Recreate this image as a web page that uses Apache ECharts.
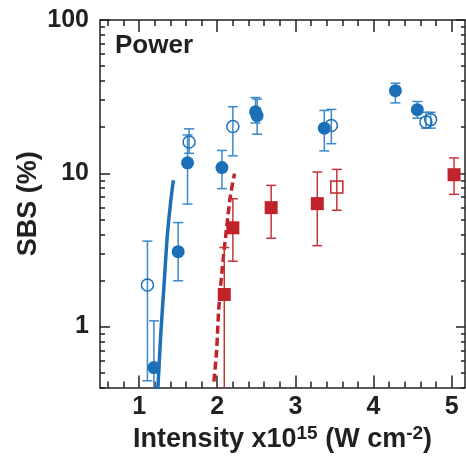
<!DOCTYPE html>
<html>
<head>
<meta charset="utf-8">
<script src="https://cdn.jsdelivr.net/npm/echarts@6/dist/echarts.min.js"></script>
<style>
  html, body { margin: 0; padding: 0; background: #fff; }
  #main { width: 466px; height: 458px; }
</style>
</head>
<body>
<div id="main"></div>
<script>
// tick values
var xMajor = [1, 2, 3, 4, 5];
var xMinor = [0.6, 0.8, 1.2, 1.4, 1.6, 1.8, 2.2, 2.4, 2.6, 2.8, 3.2, 3.4, 3.6, 3.8, 4.2, 4.4, 4.6, 4.8, 5.2];
var yMajor = [1, 10, 100];
var yMinor = [0.4, 0.5, 0.6, 0.7, 0.8, 0.9, 2, 3, 4, 5, 6, 7, 8, 9, 20, 30, 40, 50, 60, 70, 80, 90];

// blue filled circles
var blueFilledX = [1.19, 1.50, 1.62, 2.06, 2.49, 2.51, 3.37, 4.28, 4.56];
var blueFilledY = [0.54, 3.08, 11.7, 10.9, 25.2, 23.8, 19.7, 34.6, 26.0];
var blueFilledLow = [0.3, 1.99, 6.3, 7.94, 21.3, 18.0, 14.0, 28.8, 22.9];
var blueFilledHigh = [1.09, 4.77, 17.8, 14.1, 31.2, 30.5, 25.7, 38.7, 29.4];

// blue open circles
var blueOpenX = [1.107, 1.64, 2.20, 3.46, 4.67, 4.73];
var blueOpenY = [1.87, 16.0, 20.2, 20.5, 21.6, 22.4];
var blueOpenLow = [0.443, 13.5, 13.0, 15.6, 19.7, 19.7];
var blueOpenHigh = [3.61, 19.5, 27.2, 26.1, 25.0, 25.0];

// red filled squares
var redFilledX = [2.09, 2.20, 2.69, 3.28, 5.03];
var redFilledY = [1.62, 4.41, 5.97, 6.34, 9.79];
var redFilledLow = [0.3, 2.67, 3.77, 3.37, 7.29];
var redFilledHigh = [3.28, 6.82, 8.34, 10.2, 12.6];

// red open square
var redOpenX = [3.53];
var redOpenY = [8.15];
var redOpenLow = [5.74];
var redOpenHigh = [10.6];

// model curves
var blueCurveX = [1.24, 1.277, 1.319, 1.362, 1.404, 1.439];
var blueCurveY = [0.39, 0.882, 1.86, 3.95, 6.51, 9.0];
var redCurveX = [1.957, 1.991, 2.020, 2.064, 2.119, 2.170, 2.221];
var redCurveY = [0.438, 0.687, 1.315, 2.39, 4.36, 7.18, 9.95];

var BLUE = '#1b70b8';
var BLUE_ERR = '#3c88c9';
var RED = '#c1232b';
var RED_ERR = '#c8363d';
var INK = '#231f20';
var FONT = 'Liberation Sans';

function pairs(xs, ys) {
  return xs.map(function (x, i) { return [x, ys[i]]; });
}
function triples(xs, lo, hi) {
  return xs.map(function (x, i) { return [x, lo[i], hi[i]]; });
}

function errRender(color) {
  return function (params, api) {
    var cs = params.coordSys;
    var bottom = cs.y + cs.height;
    var x = api.value(0);
    var pLo = api.coord([x, api.value(1)]);
    var pHi = api.coord([x, api.value(2)]);
    var w = 5;
    var kids = [];
    var yLo = Math.min(pLo[1], bottom);
    kids.push({ type: 'line', shape: { x1: pHi[0], y1: pHi[1], x2: pLo[0], y2: yLo },
      style: { stroke: color, lineWidth: 1.5 } });
    kids.push({ type: 'line', shape: { x1: pHi[0] - w, y1: pHi[1], x2: pHi[0] + w, y2: pHi[1] },
      style: { stroke: color, lineWidth: 1.5 } });
    if (pLo[1] <= bottom) {
      kids.push({ type: 'line', shape: { x1: pLo[0] - w, y1: pLo[1], x2: pLo[0] + w, y2: pLo[1] },
        style: { stroke: color, lineWidth: 1.5 } });
    }
    return { type: 'group', children: kids };
  };
}

var tickStyle = { color: INK, width: 1.5 };
var labelStyle = { fontFamily: FONT, fontWeight: 'bold', fontSize: 25, color: INK };

function xAx(pos, vals, len, main) {
  return {
    type: 'value', position: pos, min: 0.5, max: 5.17,
    axisLine: { show: main, onZero: false, lineStyle: { color: INK, width: 1.5 } },
    axisTick: { show: true, inside: true, length: len, customValues: vals, lineStyle: tickStyle },
    axisLabel: { show: false },
    splitLine: { show: false }
  };
}
function yAx(pos, vals, len, main) {
  return {
    type: 'log', logBase: 10, position: pos, min: 0.4, max: 100,
    axisLine: { show: main, onZero: false, lineStyle: { color: INK, width: 1.5 } },
    axisTick: { show: true, inside: true, length: len, customValues: vals, lineStyle: tickStyle },
    axisLabel: { show: false },
    splitLine: { show: false }
  };
}

var xMain = xAx('bottom', xMajor, 12, true);
xMain.axisLabel = Object.assign({ show: true, customValues: xMajor, margin: 7 }, labelStyle);
xMain.name = '{a|Intensity x10}{s|15}{a| (W cm}{s|-2}{a|)}';
xMain.nameLocation = 'middle';
xMain.nameGap = 33;
xMain.nameTextStyle = {
  rich: {
    a: { fontFamily: FONT, fontWeight: 'bold', fontSize: 27, color: INK, lineHeight: 30 },
    s: { fontFamily: FONT, fontWeight: 'bold', fontSize: 19, color: INK, verticalAlign: 'top', lineHeight: 30, padding: [0, 0, 8, 0] }
  }
};

var yMain = yAx('left', yMajor, 10, true);
yMain.axisLabel = Object.assign({ show: true, customValues: yMajor, margin: 11 }, labelStyle);
yMain.name = 'SBS (%)';
yMain.nameLocation = 'middle';
yMain.nameGap = 58;
yMain.nameMoveOverlap = false;
yMain.nameTextStyle = { fontFamily: FONT, fontWeight: 'bold', fontSize: 27, color: INK };

var option = {
  animation: false,
  grid: { left: 100, right: 1, top: 20, bottom: 68 },
  xAxis: [
    xMain,
    xAx('bottom', xMinor, 6, false),
    xAx('top', xMajor, 12, true),
    xAx('top', xMinor, 6, false)
  ],
  yAxis: [
    yMain,
    yAx('left', yMinor, 5, false),
    yAx('right', yMajor, 9, true),
    yAx('right', yMinor, 4, false)
  ],
  graphic: [{
    type: 'text', left: 115, top: 33,
    style: { text: 'Power', fontFamily: FONT, fontWeight: 'bold', fontSize: 26, fill: INK }
  }],
  series: [
    {
      type: 'line', data: pairs(blueCurveX, blueCurveY), smooth: 0.3, symbol: 'none',
      lineStyle: { color: BLUE, width: 3.5 }, z: 3
    },
    {
      type: 'line', data: pairs(redCurveX, redCurveY), smooth: 0.3, symbol: 'none',
      lineStyle: { color: RED, width: 3.5, type: [8, 4] }, z: 3
    },
    {
      type: 'custom', renderItem: errRender(BLUE_ERR), encode: { x: 0, y: [1, 2] },
      data: triples(blueFilledX, blueFilledLow, blueFilledHigh), z: 4
    },
    {
      type: 'custom', renderItem: errRender(BLUE_ERR), encode: { x: 0, y: [1, 2] },
      data: triples(blueOpenX, blueOpenLow, blueOpenHigh), z: 4
    },
    {
      type: 'custom', renderItem: errRender(RED_ERR), encode: { x: 0, y: [1, 2] },
      data: triples(redFilledX, redFilledLow, redFilledHigh), z: 4
    },
    {
      type: 'custom', renderItem: errRender(RED_ERR), encode: { x: 0, y: [1, 2] },
      data: triples(redOpenX, redOpenLow, redOpenHigh), z: 4
    },
    {
      type: 'scatter', data: pairs(blueFilledX, blueFilledY), symbol: 'circle', symbolSize: 13,
      itemStyle: { color: BLUE, opacity: 1 }, z: 5
    },
    {
      type: 'scatter', data: pairs(blueOpenX, blueOpenY), symbol: 'circle', symbolSize: 12,
      itemStyle: { color: 'rgba(255,255,255,0)', borderColor: BLUE, borderWidth: 1.5, opacity: 1 }, z: 5
    },
    {
      type: 'scatter', data: pairs(redFilledX, redFilledY), symbol: 'rect', symbolSize: 13,
      itemStyle: { color: RED, opacity: 1 }, z: 5
    },
    {
      type: 'scatter', data: pairs(redOpenX, redOpenY), symbol: 'rect', symbolSize: 12,
      itemStyle: { color: 'rgba(255,255,255,0)', borderColor: RED, borderWidth: 1.5, opacity: 1 }, z: 5
    }
  ]
};

var myChart = echarts.init(document.getElementById('main'));
myChart.setOption(option);
</script>
</body>
</html>
